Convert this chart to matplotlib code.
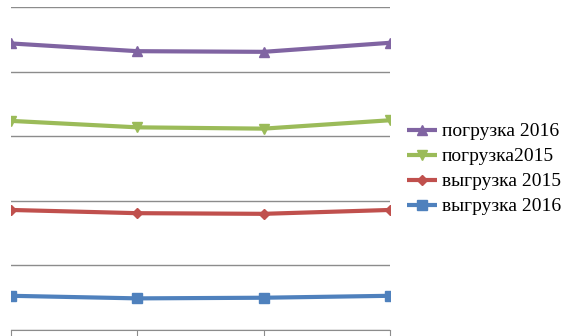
import matplotlib
matplotlib.use("Agg")
import matplotlib.pyplot as plt

categories = ["1", "2", "3", "4"]
pogruzka_2016 = [444, 432, 431, 445]
pogruzka_2015 = [324, 314, 312, 325]
vygruzka_2015 = [186, 181, 180, 186]
vygruzka_2016 = [53, 49, 50, 53]
labels = ["погрузка 2016", "погрузка2015", "выгрузка 2015", "выгрузка 2016"]
colors = ["#8064A2", "#9BBB59", "#C0504D", "#4F81BD"]
markers = ["^", "v", "D", "s"]
msizes = [7.5, 7.5, 5.5, 7]

fig = plt.figure(figsize=(5.76, 3.36), dpi=100)
ax = fig.add_axes([11/576, 1-330/336, (390-11)/576, (330-7.3)/336])

x = list(range(len(categories)))
series = [pogruzka_2016, pogruzka_2015, vygruzka_2015, vygruzka_2016]
for s, lab, c, m, ms in zip(series, labels, colors, markers, msizes):
    ax.plot(x, s, color=c, lw=3.0, marker=m, markersize=ms, label=lab,
            solid_capstyle="butt")

ax.set_xlim(0, 3)
ax.set_ylim(0, 500)
ax.set_yticks([0, 100, 200, 300, 400, 500])
ax.yaxis.grid(True, color="#8C8C8C", lw=1)
ax.set_axisbelow(True)
ax.tick_params(axis="y", left=False, labelleft=False)
ax.set_xticks(x)
ax.tick_params(axis="x", direction="out", length=6, color="#8C8C8C", labelbottom=False)
for side in ["left", "right", "top"]:
    ax.spines[side].set_visible(False)
ax.spines["bottom"].set_color("#8C8C8C")

leg = fig.legend(loc="center left", bbox_to_anchor=(407/576, 1-169/336),
                 frameon=False, prop={"family": "Liberation Serif", "size": 14},
                 borderpad=0, borderaxespad=0,
                 handlelength=1.55, labelspacing=0.38, handletextpad=0.25)

fig.savefig("out.png", dpi=100)
